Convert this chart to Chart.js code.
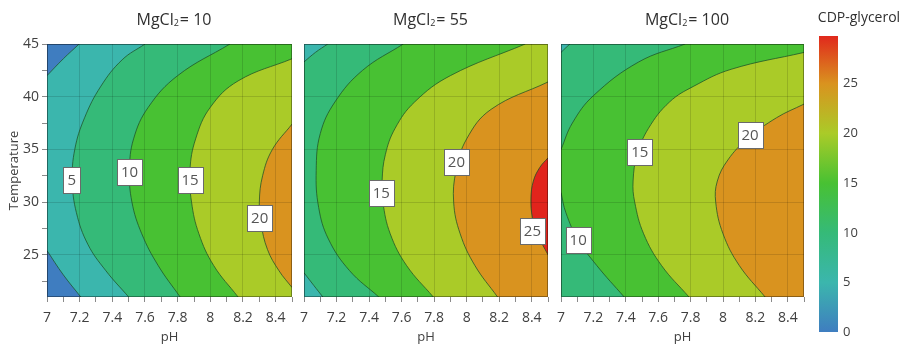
<!DOCTYPE html>
<html>
<head>
<meta charset="utf-8">
<script src="https://cdn.jsdelivr.net/npm/chart.js@4.4.0/dist/chart.umd.min.js"></script>
<style>
  html, body { margin: 0; padding: 0; background: #fff; }
  #wrap { position: relative; width: 901px; height: 345px; overflow: hidden; }
  #wrap canvas { position: absolute; top: 0; }
</style>
</head>
<body>
<div id="wrap">
  <canvas id="p1" width="300" height="345" style="left:0px"></canvas>
  <canvas id="p2" width="264" height="345" style="left:292px"></canvas>
  <canvas id="p3" width="263" height="345" style="left:549px"></canvas>
  <canvas id="cb" width="89" height="345" style="left:812px"></canvas>
</div>
<script>
// axes
const phTicks = [7, 7.1, 7.2, 7.3, 7.4, 7.5, 7.6, 7.7, 7.8, 7.9, 8, 8.1, 8.2, 8.3, 8.4, 8.5];
const tempTicks = [22.5, 25, 27.5, 30, 32.5, 35, 37.5, 40, 42.5, 45];
const colorbarTicks = [0, 5, 10, 15, 20, 25];
const colorbarMax = 29.8;
const mgcl2Values = [10, 55, 100];

// contour lines, [pH, temperature] pairs
// MgCl2 = 10
const p1Line0Top = [[7, 42.0], [7.1, 43.6], [7.197, 45]];
const p1Line0Bottom = [[7, 25.4], [7.1, 23.1], [7.207, 21]];
const p1Line5 = [[7.50, 21], [7.36, 23.5], [7.25, 26], [7.18, 29], [7.155, 32], [7.17, 35], [7.23, 38], [7.33, 41], [7.46, 43.5], [7.60, 45]];
const p1Line10 = [[7.815, 21], [7.68, 24], [7.58, 27], [7.52, 30], [7.505, 33], [7.53, 36], [7.62, 39], [7.80, 42], [8.12, 45]];
const p1Line15 = [[8.17, 21], [8.02, 24], [7.93, 27], [7.885, 30], [7.875, 33], [7.91, 36], [8.0, 39], [8.17, 41.5], [8.5, 43.6]];
const p1Line20 = [[8.5, 21.9], [8.42, 23.5], [8.35, 25.5], [8.31, 28], [8.30, 30], [8.32, 32.5], [8.38, 35], [8.5, 37.4]];
const p1Labels = [['5', 7.152, 32.1], ['10', 7.505, 32.9], ['15', 7.876, 32.1], ['20', 8.302, 28.5]];

// MgCl2 = 55
const p2Line5Top = [[7, 43.3], [7.07, 44.2], [7.146, 45]];
const p2Line5Bottom = [[7, 23.3], [7.06, 22.1], [7.116, 21]];
const p2Line10 = [[7.46, 21], [7.28, 23.5], [7.15, 26.5], [7.09, 29.5], [7.075, 33], [7.10, 36.5], [7.19, 39.5], [7.36, 42.5], [7.61, 45]];
const p2Line15 = [[7.795, 21], [7.63, 24], [7.53, 27], [7.485, 30], [7.48, 32], [7.50, 34.5], [7.56, 37], [7.68, 39.5], [7.90, 42], [8.36, 45]];
const p2Line20 = [[8.19, 21], [8.05, 24], [7.96, 27], [7.92, 30], [7.935, 33], [8.0, 36], [8.15, 38.8], [8.5, 41.4]];
const p2Line25 = [[8.5, 25.0], [8.44, 26.8], [8.405, 28.5], [8.395, 30.3], [8.41, 32], [8.45, 33.3], [8.5, 34.2]];
const p2Labels = [['15', 7.475, 30.9], ['20', 7.937, 33.8], ['25', 8.404, 27.3]];

// MgCl2 = 100
const p3Line5 = [[7, 44.2], [7.03, 44.65], [7.055, 45]];
const p3Line10Top = [[7, 35], [7.07, 37.5], [7.20, 40.1], [7.48, 43.3], [7.766, 45]];
const p3Line10Bottom = [[7.39, 21], [7.22, 24], [7.106, 26.4], [7.03, 29], [7, 30.9]];
const p3Line15 = [[7.79, 21], [7.62, 24], [7.51, 27], [7.455, 30], [7.445, 32], [7.47, 34.5], [7.54, 37], [7.67, 39.5], [7.82, 41], [8.05, 42.6], [8.5, 44.2]];
const p3Line20 = [[8.26, 21], [8.10, 24], [8.0, 27], [7.955, 30], [7.965, 32], [8.03, 34], [8.15, 36], [8.33, 38], [8.5, 39.3]];
const p3Labels = [['10', 7.106, 26.4], ['15', 7.486, 34.8], ['20', 8.167, 36.4]];

// colour of the band whose upper bound is the key
const levelColors = {
  0: '#3f7dc0', 5: '#3bb6ad', 10: '#35ba78', 15: '#48c133',
  20: '#aacb28', 25: '#d9931f', 30: '#e1241c'
};
const family = "'Open Sans', 'Noto Sans', sans-serif";
const textColor = '#404040';
const lineColor = 'rgba(30, 80, 40, 0.75)';

// side: which side of the line the fill goes (left = lower values, right = higher)
const panels = [
  { canvas: 'p1', mgcl2: mgcl2Values[0], base: 5, showY: true, padLeft: 0, padRight: 6, labels: p1Labels,
    lines: [
      { level: 0, side: 'left', pts: p1Line0Top },
      { level: 0, side: 'left', pts: p1Line0Bottom },
      { level: 5, side: 'right', pts: p1Line5 },
      { level: 10, side: 'right', pts: p1Line10 },
      { level: 15, side: 'right', pts: p1Line15 },
      { level: 20, side: 'right', pts: p1Line20 }
    ] },
  { canvas: 'p2', mgcl2: mgcl2Values[1], base: 10, showY: false, padLeft: 12, padRight: 5, labels: p2Labels,
    lines: [
      { level: 5, side: 'left', pts: p2Line5Top },
      { level: 5, side: 'left', pts: p2Line5Bottom },
      { level: 10, side: 'right', pts: p2Line10 },
      { level: 15, side: 'right', pts: p2Line15 },
      { level: 20, side: 'right', pts: p2Line20 },
      { level: 25, side: 'right', pts: p2Line25 }
    ] },
  { canvas: 'p3', mgcl2: mgcl2Values[2], base: 15, showY: false, padLeft: 12, padRight: 5, labels: p3Labels,
    lines: [
      { level: 10, side: 'left', pts: p3Line10Top },
      { level: 10, side: 'left', pts: p3Line10Bottom },
      { level: 5, side: 'left', pts: p3Line5 },
      { level: 15, side: 'right', pts: p3Line15 },
      { level: 20, side: 'right', pts: p3Line20 }
    ] }
];

function drawPanelTitle(ctx, cx, baseY, value) {
  const big = `16px ${family}`;
  const small = `9px ${family}`;
  const a = 'MgCl', b = '2', c = '= ' + value;
  ctx.font = big;
  const wa = ctx.measureText(a).width;
  const wc = ctx.measureText(c).width;
  ctx.font = small;
  const wb = ctx.measureText(b).width;
  let x = cx - (wa + wb + wc) / 2;
  ctx.textAlign = 'left';
  ctx.textBaseline = 'alphabetic';
  ctx.fillStyle = '#303030';
  ctx.font = big; ctx.fillText(a, x, baseY); x += wa;
  ctx.font = small; ctx.fillText(b, x, baseY + 1); x += wb + 1;
  ctx.font = big; ctx.fillText(c, x, baseY);
}

function contourPlugin(panel) {
  return {
    id: 'contour',
    beforeDraw(chart) {
      const { ctx, chartArea: a } = chart;
      ctx.save();
      ctx.beginPath();
      ctx.rect(a.left, a.top, a.width, a.height);
      ctx.clip();
      ctx.fillStyle = levelColors[panel.base];
      ctx.fillRect(a.left, a.top, a.width, a.height);
      chart.data.datasets.forEach((ds, i) => {
        const meta = chart.getDatasetMeta(i);
        const line = meta.dataset;
        const pts = meta.data;
        if (!line || !pts.length) return;
        line.updateControlPoints(a, 'x');
        const edge = ds.side === 'left' ? a.left : a.right;
        ctx.beginPath();
        line.path(ctx);
        ctx.lineTo(edge, pts[pts.length - 1].y);
        ctx.lineTo(edge, pts[0].y);
        ctx.closePath();
        ctx.fillStyle = ds.bandColor;
        ctx.fill();
      });
      ctx.restore();
    },
    afterDatasetsDraw(chart) {
      const { ctx, scales: { x, y } } = chart;
      ctx.save();
      ctx.font = `15px ${family}`;
      ctx.textAlign = 'center';
      ctx.textBaseline = 'middle';
      panel.labels.forEach(([text, ph, t]) => {
        const px = x.getPixelForValue(ph);
        const py = y.getPixelForValue(t);
        const w = Math.round(ctx.measureText(text).width + 8);
        const h = 26;
        const bx = Math.round(px - w / 2), by = Math.round(py - h / 2);
        ctx.fillStyle = '#ffffff';
        ctx.fillRect(bx, by, w, h);
        ctx.strokeStyle = '#6a6a6a';
        ctx.lineWidth = 1;
        ctx.strokeRect(bx + 0.5, by + 0.5, w, h);
        ctx.fillStyle = '#555555';
        ctx.fillText(text, px, py + 1);
      });
      ctx.restore();
    },
    afterDraw(chart) {
      const { ctx, chartArea: a } = chart;
      ctx.save();
      ctx.strokeStyle = 'rgba(0,0,0,0.35)';
      ctx.lineWidth = 1;
      ctx.strokeRect(Math.round(a.left) + 0.5, Math.round(a.top) + 0.5, Math.round(a.width) - 1, Math.round(a.height) - 1);
      drawPanelTitle(ctx, (a.left + a.right) / 2 + 4, 25, panel.mgcl2);
      ctx.restore();
    }
  };
}

function isMajorPH(v) { return Math.round(v * 10) % 2 === 0; }
function isMajorT(v) { return Math.abs(v % 5) < 1e-6; }

panels.forEach(panel => {
  const datasets = panel.lines.map(l => ({
    data: l.pts.map(([x, y]) => ({ x, y })),
    side: l.side,
    bandColor: levelColors[l.side === 'left' ? l.level : l.level + 5],
    borderColor: lineColor,
    borderWidth: 1,
    pointRadius: 0,
    tension: 0.4,
    fill: false
  }));
  new Chart(document.getElementById(panel.canvas), {
    type: 'line',
    data: { datasets },
    options: {
      responsive: false,
      animation: false,
      events: [],
      layout: { padding: { top: 44, right: panel.padRight, left: panel.padLeft, bottom: 0 } },
      plugins: { legend: { display: false }, tooltip: { enabled: false } },
      scales: {
        x: {
          type: 'linear', min: 7, max: 8.5,
          afterBuildTicks: s => { s.ticks = phTicks.map(v => ({ value: v })); },
          afterFit: s => { s.height = 48; },
          ticks: {
            autoSkip: false, maxRotation: 0, padding: 8, color: textColor,
            font: { family, size: 14 },
            callback: v => (isMajorPH(v) ? String(+v.toFixed(1)) : '')
          },
          grid: {
            color: c => (c.tick && isMajorPH(c.tick.value) ? 'rgba(0,0,0,0.13)' : 'rgba(0,0,0,0)'),
            tickColor: '#8a8a8a', tickLength: 5
          },
          border: { display: false },
          title: { display: true, text: 'pH', color: textColor, font: { family, size: 13 }, padding: { top: 0, bottom: 0 } }
        },
        y: {
          type: 'linear', min: 21, max: 45,
          afterBuildTicks: s => { s.ticks = tempTicks.map(v => ({ value: v })); },
          afterFit: s => { s.width = panel.showY ? 47 : 0; },
          ticks: {
            display: panel.showY, padding: 3, color: textColor,
            font: { family, size: 14 },
            callback: v => (isMajorT(v) ? String(v) : '')
          },
          grid: {
            color: c => (c.tick && isMajorT(c.tick.value) ? 'rgba(0,0,0,0.13)' : 'rgba(0,0,0,0)'),
            tickColor: '#8a8a8a', tickLength: 5, drawTicks: panel.showY
          },
          border: { display: false },
          title: { display: panel.showY, text: 'Temperature', color: textColor, font: { family, size: 13 }, padding: { top: 6, bottom: 0 } }
        }
      }
    },
    plugins: [contourPlugin(panel)]
  });
});

// colour bar
const colorStops = [0, 5, 10, 15, 20, 25, 30];
function colorbarGradient(chart) {
  const y = chart.scales && chart.scales.y;
  if (!y) return levelColors[15];
  const y0 = y.getPixelForValue(0);
  const y1 = y.getPixelForValue(30);
  if (!isFinite(y0) || !isFinite(y1)) return levelColors[15];
  const g = chart.ctx.createLinearGradient(0, y0, 0, y1);
  colorStops.forEach(l => g.addColorStop(l / 30, levelColors[l]));
  return g;
}
const colorbar = new Chart(document.getElementById('cb'), {
  type: 'bar',
  data: {
    labels: ['CDP-glycerol'],
    datasets: [{
      data: [[0, colorbarMax]],
      backgroundColor: c => colorbarGradient(c.chart),
      borderWidth: 0, barPercentage: 1, categoryPercentage: 1
    }]
  },
  options: {
    responsive: false,
    animation: false,
    events: [],
    layout: { padding: { top: 36, bottom: 8, left: 7, right: 0 } },
    plugins: { legend: { display: false }, tooltip: { enabled: false } },
    scales: {
      x: { display: false },
      y: {
        position: 'right', min: 0, max: colorbarMax, z: 1,
        afterBuildTicks: s => { s.ticks = colorbarTicks.map(v => ({ value: v })); },
        afterFit: s => { s.width = 63; },
        ticks: { padding: 5, color: textColor, font: { family, size: 13 } },
        grid: { color: 'rgba(255,255,255,0.3)', drawTicks: false },
        border: { display: false }
      }
    }
  },
  plugins: [{
    id: 'cbTitle',
    afterDraw(chart) {
      const { ctx, chartArea: a } = chart;
      ctx.save();
      ctx.font = `14px ${family}`;
      ctx.fillStyle = '#303030';
      ctx.textAlign = 'center';
      ctx.textBaseline = 'alphabetic';
      ctx.fillText('CDP-glycerol', a.left + 40, 22);
      ctx.restore();
    }
  }]
});
colorbar.update();
</script>
</body>
</html>
